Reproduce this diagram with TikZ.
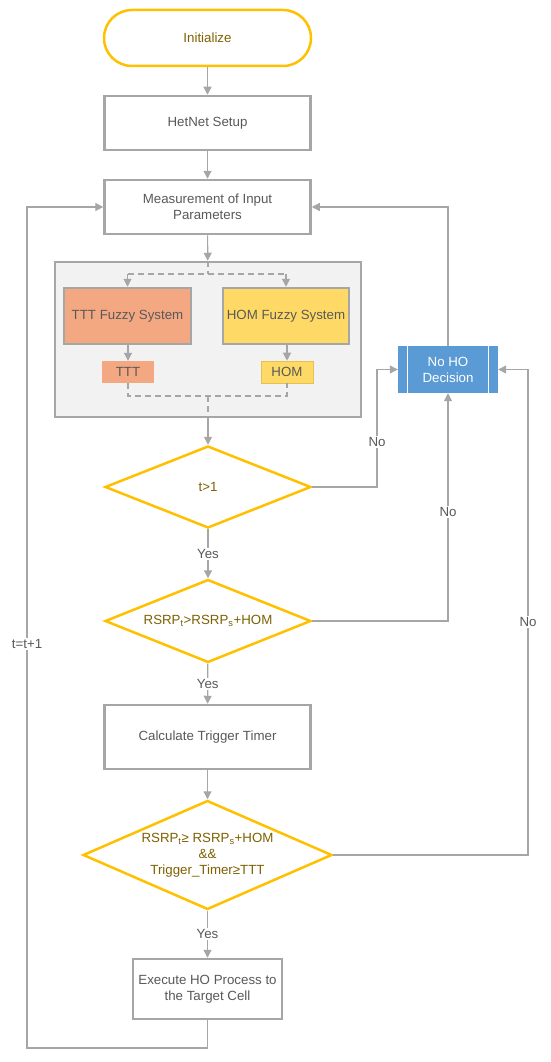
\documentclass[tikz,border=0pt]{standalone}
\usepackage{fontspec}
\setmainfont{Liberation Sans}
\usetikzlibrary{shapes.geometric,arrows.meta}
\definecolor{linegray}{RGB}{166,166,166}
\definecolor{textgray}{RGB}{89,89,89}
\definecolor{gold}{RGB}{255,192,0}
\definecolor{olive}{RGB}{127,96,0}
\definecolor{salmon}{RGB}{244,168,130}
\definecolor{lightyellow}{RGB}{255,217,102}
\definecolor{boxblue}{RGB}{91,155,213}
\definecolor{panel}{RGB}{242,242,242}
\begin{document}
\begin{tikzpicture}[x=1pt,y=-1pt,
	font=\fontsize{13.3}{16}\selectfont,
	proc/.style={shape=rectangle,draw=linegray,line width=2.5pt,fill=white,text=textgray,align=center,minimum width=206pt,minimum height=54pt},
	decision/.style={shape=diamond,draw=gold,line width=2.5pt,fill=white,text=olive,align=center,inner sep=0pt},
	conn/.style={draw=linegray,line width=1.2pt,-{Triangle[length=8pt,width=8pt]}},
	dashline/.style={draw=linegray,line width=1.2pt,dash pattern=on 6pt off 4pt},
	lbl/.style={fill=white,text=textgray,inner sep=1.5pt}]
		\useasboundingbox (0,0) rectangle (550,1062);
		% main column
		\node[shape=rectangle,rounded corners=28pt,draw=gold,line width=2.5pt,text=olive,minimum width=207pt,minimum height=56pt] (A) at (207.5,38) {Initialize};
		\node[proc] (B) at (207.5,123) {HetNet Setup};
		\node[proc] (C) at (207.5,207) {Measurement of Input\\Parameters};
		\node[shape=rectangle,draw=linegray,line width=2.5pt,fill=panel,minimum width=306pt,minimum height=155pt] (D) at (208,339.5) {};
		\node[shape=rectangle,draw=linegray,line width=2.5pt,fill=salmon,text=textgray,minimum width=127pt,minimum height=56pt] (E) at (127.5,316) {TTT Fuzzy System};
		\node[shape=rectangle,draw=linegray,line width=2.5pt,fill=lightyellow,text=textgray,minimum width=126pt,minimum height=56pt] (F) at (286,316) {HOM Fuzzy System};
		\node[shape=rectangle,fill=salmon,text=textgray,minimum width=52pt,minimum height=22pt] (G) at (128,372) {TTT};
		\node[shape=rectangle,draw=lightyellow!80!olive,line width=0.6pt,fill=lightyellow,text=textgray,minimum width=52pt,minimum height=22pt] (H) at (287,372) {HOM};
		\node[decision,aspect=2.5,minimum width=206pt,minimum height=82pt] (I) at (208,487) {t>1};
		\node[decision,aspect=2.5,minimum width=206pt,minimum height=83pt] (J) at (208,621) {RSRP\textsubscript{t}>RSRP\textsubscript{s}+HOM};
		\node[proc,minimum height=64pt] (K) at (207.5,737) {Calculate Trigger Timer};
		\node[decision,aspect=2.3,minimum width=249pt,minimum height=109pt] (L) at (207.5,855) {RSRP\textsubscript{t}≥ RSRP\textsubscript{s}+HOM\\\&\&\\Trigger\_Timer≥TTT};
		\node[proc,minimum width=149pt,minimum height=60pt] (M) at (207.5,989) {Execute HO Process to\\the Target Cell};
		\node[shape=rectangle,fill=boxblue,text=white,align=center,minimum width=100pt,minimum height=47pt] (N) at (448,369.5) {No HO\\Decision};
		\draw[white,line width=1.2pt] ([xshift=10pt]N.north west) -- ([xshift=10pt]N.south west);
		\draw[white,line width=1.2pt] ([xshift=-10pt]N.north east) -- ([xshift=-10pt]N.south east);
		\coordinate (P) at (208,274);
		\coordinate (Q) at (208,396);
		
		\path[conn] (A) -- (B);
		\path[conn] (B) -- (C);
		\path[conn] (C) -- (D);
		% inner dashed paths
		\path[dashline] (D.north -| P) -- (P);
		\path[dashline] (P -| E) -- (P -| F);
		\path[dashline,-{Triangle[length=8pt,width=8pt]}] (P -| E) -- (E);
		\path[dashline,-{Triangle[length=8pt,width=8pt]}] (P -| F) -- (F);
		\path[conn] (E.south -| G) -- (G);
		\path[conn] (F.south -| H) -- (H);
		\path[dashline] (G) -- (Q -| G) -- (Q -| H) -- (H);
		\path[dashline] (Q) -- (D.south -| Q);
		\path[conn] (D) -- (I);
		\path[conn] (I) -- node[lbl] {Yes} (J);
		\path[conn] (J) -- node[lbl] {Yes} (K);
		\path[conn] (K) -- (L);
		\path[conn] (L) -- node[lbl] {Yes} (M);
		% no branches
		\path[conn] (I.east) -| node[lbl,pos=0.69] {No} (377,369.5) -- (N.west);
		\path[conn] (J.east) -| node[lbl,pos=0.74] {No} (N.south);
		\path[conn] (L.east) -| node[lbl,pos=0.74] {No} (528,369.5) -- (N.east);
		\path[conn] (N.north) |- (C.east);
		% loop back
		\path[conn] (M.south) -- (207.5,1048) -| node[lbl,pos=0.74] {t=t+1} (27,207) -- (C.west);
\end{tikzpicture}
\end{document}
